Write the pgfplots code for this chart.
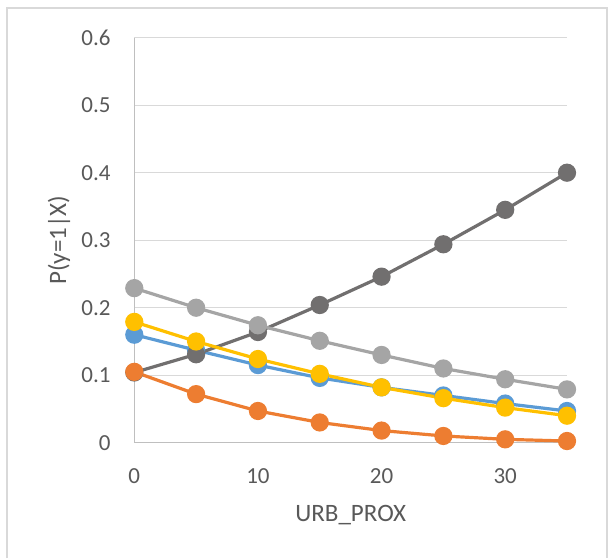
\documentclass[border=0pt]{standalone}
\usepackage{fontspec}
\setmainfont{Carlito}
\usepackage{pgfplots}
\pgfplotsset{compat=1.18}

\definecolor{txtgray}{HTML}{595959}
\definecolor{gridgray}{HTML}{D9D9D9}
\definecolor{axisgray}{HTML}{BFBFBF}
\definecolor{frame}{HTML}{D9D9D9}
\definecolor{sblue}{HTML}{5B9BD5}
\definecolor{sorange}{HTML}{ED7D31}
\definecolor{slgray}{HTML}{A5A5A5}
\definecolor{syellow}{HTML}{FFC000}
\definecolor{sdgray}{HTML}{716F6F}

\begin{document}
\begin{tikzpicture}
\useasboundingbox (-67.15pt,-57.65pt) rectangle (236.85pt,221.35pt);
% chart frame
\draw[frame, line width=1pt] (-63.65pt,-57.65pt) -- (-63.65pt,217.35pt) -- (236.1pt,217.35pt) -- (236.1pt,-57.65pt);
\begin{axis}[
  at={(0,0)}, anchor=south west,
  scale only axis,
  width=216.35pt, height=202.5pt,
  xmin=0, xmax=35, ymin=0, ymax=0.6,
  xtick={0,10,20,30},
  ytick={0,0.1,0.2,0.3,0.4,0.5,0.6},
  yticklabel style={/pgf/number format/fixed, /pgf/number format/precision=1},
  /pgf/number format/assume math mode=true,
  major tick length=0pt,
  axis x line*=bottom, axis y line*=left,
  axis line style={axisgray, line width=0.7pt},
  ymajorgrids,
  grid style={gridgray, line width=0.6pt},
  tick label style={txtgray, font=\fontsize{11.5}{14}\selectfont, inner sep=0pt},
  xticklabel style={anchor=north, yshift=-12.6pt},
  yticklabel style={anchor=east, xshift=-11.65pt},
  xlabel={URB\_PROX},
  ylabel={P(y=1|X)},
  every axis x label/.style={at={(axis description cs:0.5,-0.195)}, anchor=base,
    text=txtgray, font=\fontsize{12.5}{15}\selectfont},
  every axis y label/.style={at={(axis description cs:-0.174,0.5)}, anchor=center, rotate=90,
    text=txtgray, font=\fontsize{12.5}{15}\selectfont},
  clip=false,
  every axis plot/.append style={line width=1.6pt, mark=*, mark size=3.75pt},
]
% blue series
\addplot[sblue, mark options={draw=none, fill=sblue}] coordinates {
  (0,0.160) (5,0.137) (10,0.115) (15,0.096) (20,0.082) (25,0.070) (30,0.058) (35,0.047)};
% dark gray series
\addplot[sdgray, mark options={draw=none, fill=sdgray}] coordinates {
  (0,0.104) (5,0.131) (10,0.164) (15,0.204) (20,0.246) (25,0.294) (30,0.345) (35,0.400)};
% orange series
\addplot[sorange, mark options={draw=none, fill=sorange}] coordinates {
  (0,0.105) (5,0.072) (10,0.047) (15,0.030) (20,0.018) (25,0.010) (30,0.005) (35,0.0025)};
% light gray series
\addplot[slgray, mark options={draw=none, fill=slgray}] coordinates {
  (0,0.229) (5,0.200) (10,0.174) (15,0.151) (20,0.130) (25,0.110) (30,0.094) (35,0.079)};
% yellow series
\addplot[syellow, mark options={draw=none, fill=syellow}] coordinates {
  (0,0.179) (5,0.150) (10,0.124) (15,0.102) (20,0.082) (25,0.066) (30,0.052) (35,0.040)};
\end{axis}
\end{tikzpicture}
\end{document}
